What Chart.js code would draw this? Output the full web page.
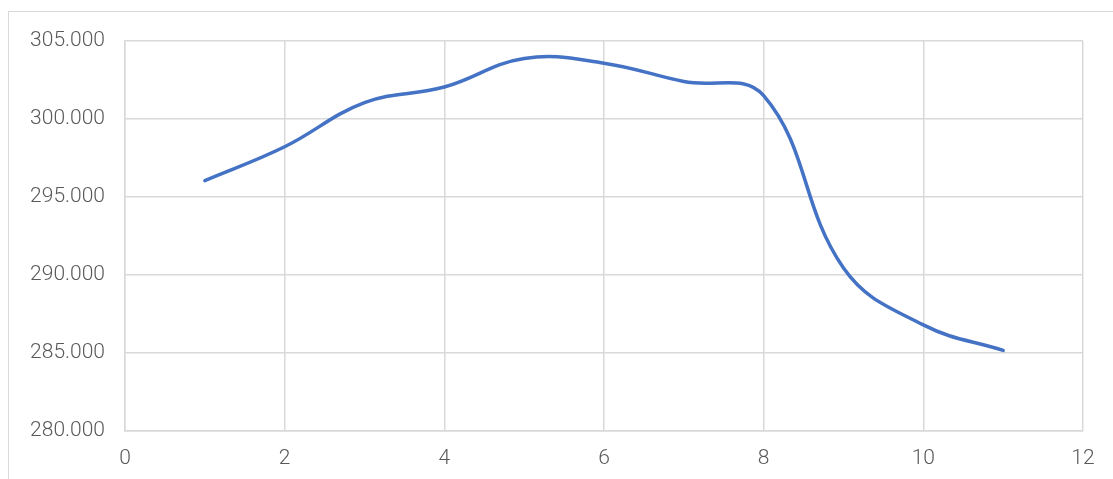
<!DOCTYPE html>
<html>
<head>
<meta charset="utf-8">
<script src="https://cdn.jsdelivr.net/npm/chart.js@4.4.1/dist/chart.umd.min.js"></script>
<style>
  html, body { margin: 0; padding: 0; background: #ffffff; overflow: hidden; }
  #frame { position: absolute; left: 8px; top: 11px; width: 1300px; height: 700px; border: 1.5px solid #d9d9d9; box-sizing: border-box; }
  #wrap { position: absolute; left: 0; top: 0; width: 1113px; height: 479px; }
</style>
</head>
<body>
<div id="frame"></div>
<div id="wrap"><canvas id="c" width="1113" height="479"></canvas></div>
<script>
const xValues = [1, 2, 3, 4, 5, 6, 7, 8, 9, 10, 11];
const yValues = [296.05, 298.22, 301.05, 302.05, 303.88, 303.58, 302.4, 301.5, 290.45, 286.8, 285.17];
const xTicks = [0, 2, 4, 6, 8, 10, 12];
const yTicks = [280, 285, 290, 295, 300, 305];

const points = xValues.map((x, i) => ({ x: x, y: yValues[i] }));
const fontSpec = { family: "Roboto, 'Noto Sans', sans-serif", size: 21, weight: '300' };

new Chart(document.getElementById('c'), {
  type: 'scatter',
  data: {
    datasets: [{
      data: points,
      showLine: true,
      borderColor: '#4472C4',
      borderWidth: 3.5,
      tension: 0.4,
      pointRadius: 0,
      fill: false,
      borderCapStyle: 'round'
    }]
  },
  options: {
    responsive: false,
    animation: false,
    devicePixelRatio: 1,
    layout: { padding: { left: 0, right: 30, top: 41, bottom: 0 } },
    plugins: { legend: { display: false }, tooltip: { enabled: false } },
    scales: {
      x: {
        type: 'linear',
        min: 0, max: 12,
        afterBuildTicks: (s) => { s.ticks = xTicks.map(v => ({ value: v })); },
        grid: { color: '#d9d9d9', lineWidth: 1.5, drawTicks: false },
        border: { color: '#d9d9d9', width: 1.5 },
        ticks: { color: '#595959', font: fontSpec, padding: 15, maxRotation: 0, callback: (v) => String(v) },
        afterFit: (s) => { s.height = 479 - 431; }
      },
      y: {
        type: 'linear',
        min: 280, max: 305,
        afterBuildTicks: (s) => { s.ticks = yTicks.map(v => ({ value: v })); },
        grid: { color: '#d9d9d9', lineWidth: 1.5, drawTicks: false },
        border: { color: '#d9d9d9', width: 1.5 },
        ticks: { color: '#595959', font: fontSpec, padding: 20, callback: (v) => Number(v).toFixed(3) },
        afterFit: (s) => { s.width = 125; }
      }
    }
  }
});
</script>
</body>
</html>
